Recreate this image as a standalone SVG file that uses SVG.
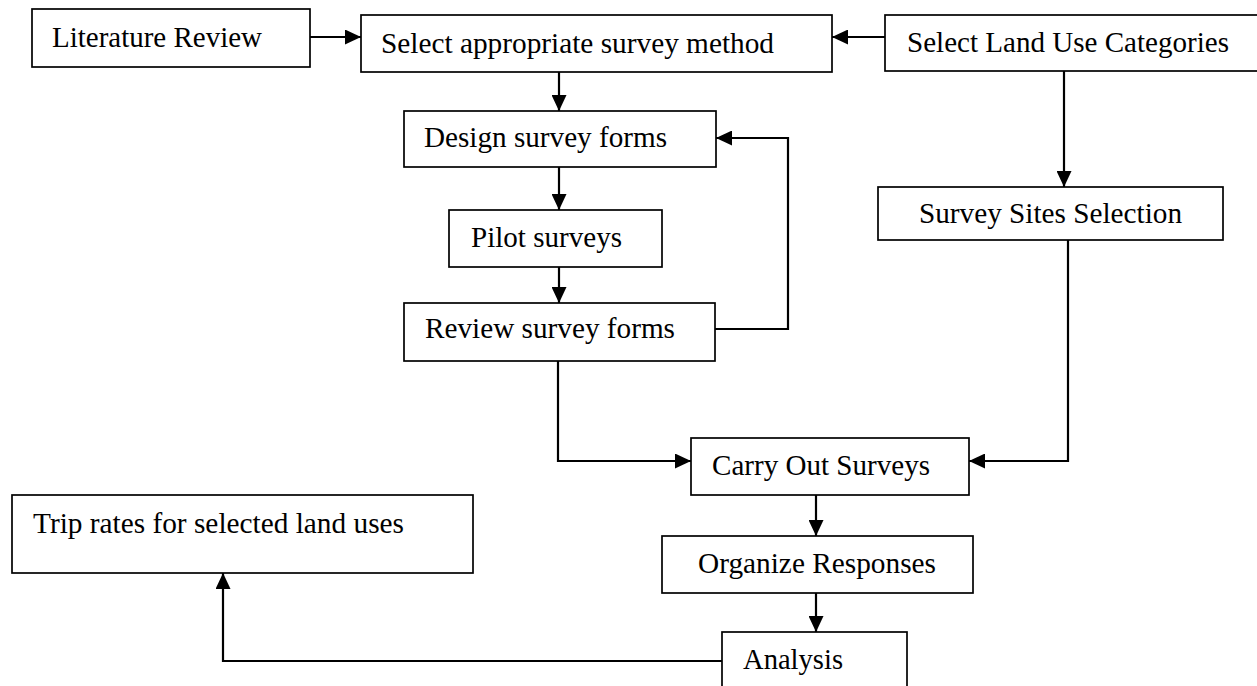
<svg xmlns="http://www.w3.org/2000/svg" width="1257" height="686" viewBox="0 0 1257 686">
<style>
.box{fill:#fff;stroke:#000;stroke-width:1.7}
.lbl{font-family:"Liberation Serif","Times New Roman",serif;font-size:29px;fill:#000}
.con{fill:none;stroke:#000;stroke-width:2.2}
.arr{marker-end:url(#ah)}
</style>
<defs>
<marker id="ah" viewBox="0 0 16 15" refX="16" refY="7.5" markerWidth="16" markerHeight="15" markerUnits="userSpaceOnUse" orient="auto">
<path d="M0,0 L16,7.5 L0,15 z" fill="#000"/>
</marker>
</defs>
<rect width="1257" height="686" fill="#fff"/>
<g id="connectors">
<path class="con arr" d="M310,37 H361"/>
<path class="con arr" d="M885,37 H832"/>
<path class="con arr" d="M559,72 V111"/>
<path class="con arr" d="M1064,71 V187"/>
<path class="con arr" d="M559,167 V210"/>
<path class="con arr" d="M559,267 V303"/>
<path class="con arr" d="M715,329 H788 V138 H716"/>
<path class="con arr" d="M558,361 V461 H691"/>
<path class="con arr" d="M1068,240 V461 H969"/>
<path class="con arr" d="M816,495 V536"/>
<path class="con arr" d="M816,593 V632"/>
<path class="con arr" d="M722,661 H223 V573"/>
</g>
<g id="literature-review">
<rect class="box" x="32" y="9" width="278" height="58"/>
<text class="lbl" x="52" y="47" textLength="210" lengthAdjust="spacingAndGlyphs">Literature Review</text>
</g>
<g id="select-method">
<rect class="box" x="361" y="15" width="471" height="57"/>
<text class="lbl" x="381" y="53" textLength="393" lengthAdjust="spacingAndGlyphs">Select appropriate survey method</text>
</g>
<g id="select-land-use">
<rect class="box" x="885" y="15" width="380" height="56"/>
<text class="lbl" x="907" y="52" textLength="322" lengthAdjust="spacingAndGlyphs">Select Land Use Categories</text>
</g>
<g id="design-forms">
<rect class="box" x="404" y="111" width="312" height="56"/>
<text class="lbl" x="424" y="147" textLength="243" lengthAdjust="spacingAndGlyphs">Design survey forms</text>
</g>
<g id="survey-sites">
<rect class="box" x="878" y="187" width="345" height="53"/>
<text class="lbl" x="919" y="223" textLength="263" lengthAdjust="spacingAndGlyphs">Survey Sites Selection</text>
</g>
<g id="pilot-surveys">
<rect class="box" x="449" y="210" width="213" height="57"/>
<text class="lbl" x="471" y="247" textLength="151" lengthAdjust="spacingAndGlyphs">Pilot surveys</text>
</g>
<g id="review-forms">
<rect class="box" x="404" y="303" width="311" height="58"/>
<text class="lbl" x="425" y="338" textLength="250" lengthAdjust="spacingAndGlyphs">Review survey forms</text>
</g>
<g id="carry-out">
<rect class="box" x="691" y="438" width="278" height="57"/>
<text class="lbl" x="712" y="475" textLength="218" lengthAdjust="spacingAndGlyphs">Carry Out Surveys</text>
</g>
<g id="organize">
<rect class="box" x="662" y="536" width="311" height="57"/>
<text class="lbl" x="698" y="573" textLength="238" lengthAdjust="spacingAndGlyphs">Organize Responses</text>
</g>
<g id="analysis">
<rect class="box" x="722" y="632" width="185" height="70"/>
<text class="lbl" x="743" y="669" textLength="100" lengthAdjust="spacingAndGlyphs">Analysis</text>
</g>
<g id="trip-rates">
<rect class="box" x="12" y="495" width="461" height="78"/>
<text class="lbl" x="33" y="533" textLength="371" lengthAdjust="spacingAndGlyphs">Trip rates for selected land uses</text>
</g>
</svg>
